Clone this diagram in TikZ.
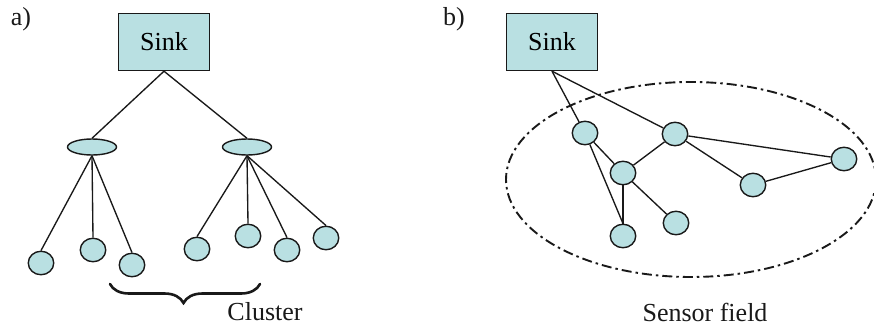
\documentclass[tikz,border=0pt]{standalone}
\usepackage{fontspec}
\setmainfont{Liberation Serif}
\usetikzlibrary{shapes.geometric,decorations.pathreplacing}
\definecolor{nodefill}{RGB}{185,224,226}
\definecolor{ink}{RGB}{25,25,25}
\tikzset{
  sinkbox/.style={draw=ink,line width=1.4pt,fill=nodefill,rectangle,inner sep=0pt,minimum width=91pt,minimum height=57pt,font=\fontsize{26}{30}\selectfont},
  chead/.style={draw=ink,line width=1.4pt,fill=nodefill,ellipse,inner sep=0pt,minimum width=49pt,minimum height=16pt},
  sensor/.style={draw=ink,line width=1.4pt,fill=nodefill,ellipse,inner sep=0pt,minimum width=25.5pt,minimum height=23.5pt},
  link/.style={draw=ink,line width=1.35pt},
  lbl/.style={inner sep=0pt,font=\fontsize{26}{30}\selectfont,text=ink},
}
\begin{document}
\begin{tikzpicture}[x=1pt,y=-1pt]
\useasboundingbox (0,0) rectangle (874,326);
% ---------- panel a ----------
\node[lbl] (la) at (21,19) {a)};
\node[sinkbox] (sa) at (164,42) {Sink};
\node[chead] (h1) at (92,147) {};
\node[chead] (h2) at (247,147) {};
\node[sensor] (a1) at (41,263) {};
\node[sensor] (a2) at (93,250) {};
\node[sensor] (a3) at (132,265) {};
\node[sensor] (a4) at (197,249) {};
\node[sensor] (a5) at (248,236) {};
\node[sensor] (a6) at (287,250) {};
\node[sensor] (a7) at (326,238) {};
\draw[link] (sa.south) -- (h1.north);
\draw[link] (sa.south) -- (h2.north);
\draw[link] (h1.south) -- (a1.north);
\draw[link] (h1.south) -- (a2.north);
\draw[link] (h1.south) -- (a3.north);
\draw[link] (h2.south) -- (a4.north);
\draw[link] (h2.south) -- (a5.north);
\draw[link] (h2.south) -- (a6.north);
\draw[link] (h2.south) -- (a7.north);
\coordinate (bl) at (110,284);
\coordinate (br) at (260,284);
\draw[ink,line width=2.6pt,line cap=round,decorate,decoration={brace,mirror,amplitude=19pt,aspect=0.49}] (bl) -- (br);
\node[lbl] (cl) at (265,312) {Cluster};
% ---------- panel b ----------
\node[lbl] (lb) at (454,19) {b)};
\node[sinkbox] (sb) at (552,42) {Sink};
\draw[ink,line width=1.9pt,dash pattern=on 10pt off 4pt on 2.5pt off 4pt] (691,179.5) ellipse [x radius=185, y radius=97.5];
\node[sensor] (n1) at (585,133) {};
\node[sensor] (n2) at (675,134) {};
\node[sensor] (n3) at (844,159) {};
\node[sensor] (n4) at (623,173) {};
\node[sensor] (n5) at (753,185) {};
\node[sensor] (n6) at (676,223) {};
\node[sensor] (n7) at (623,236) {};
\draw[link] (sb.south) -- (n1);
\draw[link] (sb.south) -- (n2);
\draw[link] (n1) -- (n4);
\draw[link] (n1) -- (n7.north);
\draw[link] (n4) -- (n7);
\draw[link] (n4) -- (n2);
\draw[link] (n4) -- (n6);
\draw[link] (n2) -- (n3);
\draw[link] (n2) -- (n5);
\draw[link] (n5) -- (n3);
\node[lbl] (sf) at (705,312) {Sensor field};
\end{tikzpicture}
\end{document}
